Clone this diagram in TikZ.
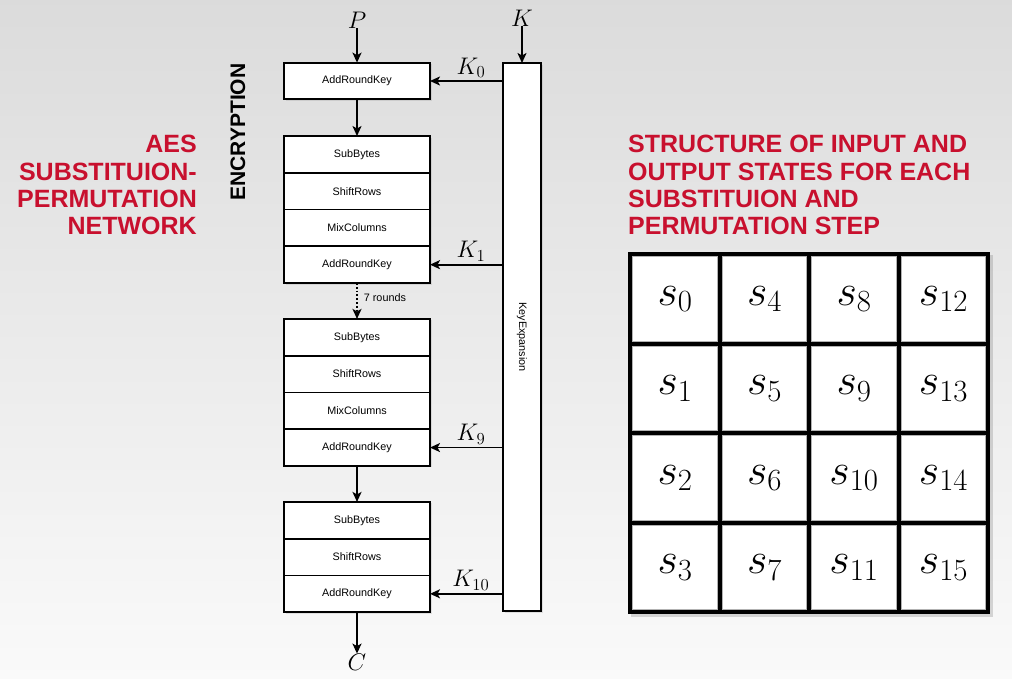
\RequirePackage{fix-cm}
\documentclass[tikz,border=0pt]{standalone}
\usepackage{fontspec}
\setsansfont{Liberation Sans}
\usetikzlibrary{positioning,arrows.meta,shadows}
\definecolor{titlered}{RGB}{200,16,46}

\begin{document}
\begin{tikzpicture}[
  x=1pt, y=-1pt,
  every node/.style={inner sep=0pt},
  stepbox/.style={draw, line width=1.8pt, outer sep=0pt, fill=white, minimum width=146pt,
    minimum height=36.75pt, font=\fontsize{10.8}{12}\sffamily,
    drop shadow={opacity=0.2, shadow xshift=1.5pt, shadow yshift=-1.5pt}},
  arr/.style={line width=1.8pt, -{Stealth[length=10pt, width=9pt, inset=2.5pt]}},
  title/.style={text=titlered, font=\fontsize{25}{27.4}\sffamily\bfseries},
  mathlbl/.style={font=\fontsize{24}{26}\selectfont},
  cell/.style={draw=gray!60, line width=0.8pt, fill=white, minimum size=84.5pt,
    font=\fontsize{44}{46}\selectfont}
]
\useasboundingbox (0,0) rectangle (1012,678);
% background:
\shade [top color=black!14, bottom color=black!2] (0,0) rectangle (1012,678);

% titles
\node [title, align=right, anchor=north east] (aestitle) at (197,135)
  {AES\\SUBSTITUION-\\PERMUTATION\\NETWORK};
\node [title, align=left, anchor=north west] (statetitle) at (628,135)
  {STRUCTURE OF INPUT AND\\OUTPUT STATES FOR EACH\\SUBSTITUION AND\\PERMUTATION STEP};
\node [rotate=90, font=\fontsize{21}{24}\sffamily\bfseries] (enc) at (238,132) {ENCRYPTION};

% key schedule
\node [draw, line width=1.8pt, outer sep=0pt, fill=white, minimum width=38pt, minimum height=548pt,
  font=\fontsize{10.8}{12}\sffamily,
  drop shadow={opacity=0.2, shadow xshift=1.5pt, shadow yshift=-1.5pt}]
  (kexp) at (522,337) {\rotatebox{-90}{KeyExpansion}};

% rounds
\node [mathlbl] (P) at (357,20) {$P$};
\node [mathlbl] (K) at (522,18) {$K$};
\node [stepbox] (ark0) at (357,81) {AddRoundKey};

\foreach \n/\y in {1/154.4, 9/337.3} {
  \node [stepbox] (sb\n) at (357,\y) {SubBytes};
  \node [stepbox, below=0pt of sb\n] (sr\n) {ShiftRows};
  \node [stepbox, below=0pt of sr\n] (mc\n) {MixColumns};
  \node [stepbox, below=0pt of mc\n] (ark\n) {AddRoundKey};
}
\node [stepbox] (sb10) at (357,520.3) {SubBytes};
\node [stepbox, below=0pt of sb10] (sr10) {ShiftRows};
\node [stepbox, below=0pt of sr10] (ark10) {AddRoundKey};
\node [mathlbl] (C) at (357,662) {$C$};

\draw [arr] (P) -- (ark0);
\draw [arr] (K) -- (kexp.north);
\draw [arr] (ark0) -- (sb1);
\draw [arr, dotted] (ark1) -- node [pos=0.4, right=6pt, font=\fontsize{10.8}{12}\sffamily] (rounds) {7 rounds} (sb9);
\draw [arr] (ark9) -- (sb10);
\draw [arr] (ark10) -- (C);

% round keys
\foreach \n in {0,1,9,10}
  \draw [arr] (kexp.west |- ark\n) -- node [pos=0.44, above=2.5pt, mathlbl] (key\n) {$K_{\n}$} (ark\n.east);

% state matrix
\node [fill=black, minimum size=362pt,
  drop shadow={opacity=0.3, shadow xshift=3pt, shadow yshift=-3pt}] (state) at (809,433) {};
\foreach \c in {0,...,3}
  \foreach \r in {0,...,3} {
    \pgfmathtruncatemacro{\idx}{4*\c+\r}
    \node [cell] (s\idx) at (675+89.5*\c, 299+89.5*\r) {\raisebox{-4pt}{$s_{\idx}$}};
  }

\end{tikzpicture}
\end{document}
